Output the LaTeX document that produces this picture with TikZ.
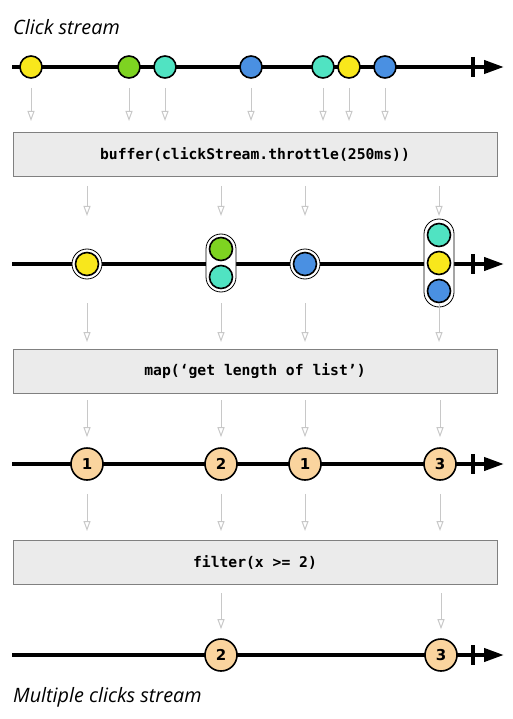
\documentclass[tikz,border=0pt]{standalone}
\usepackage{fontspec}
\usetikzlibrary{arrows.meta}
\newfontfamily\labelfont{Open Sans}
\newfontfamily\codefont{DejaVu Sans Mono}
\newfontfamily\numfont{DejaVu Sans}

\definecolor{mYellow}{HTML}{F8E71C}
\definecolor{mGreen}{HTML}{7ED321}
\definecolor{mTeal}{HTML}{50E3C2}
\definecolor{mBlue}{HTML}{4A90E2}
\definecolor{mPeach}{HTML}{FAD49E}
\definecolor{opFill}{HTML}{EBEBEB}
\definecolor{opLine}{HTML}{808080}
\definecolor{flowGray}{HTML}{C8C8C8}

\tikzset{
  timeline/.style={line width=4pt, -{Triangle[length=20pt,width=13pt]}},
  tickbar/.style={line width=4.5pt},
  marble/.style={circle, draw, line width=1.6pt, minimum size=22pt, inner sep=0pt},
  ring/.style={circle, draw, fill=white, line width=0.8pt, minimum size=30pt, inner sep=0pt},
  pill/.style={rectangle, draw, fill=white, line width=0.8pt, rounded corners=15pt, minimum width=30pt, inner sep=0pt},
  count/.style={circle, draw, fill=mPeach, line width=1.6pt, minimum size=32pt, inner sep=0pt, font=\numfont\bfseries\fontsize{15}{15}\selectfont},
  opbox/.style={rectangle, draw=opLine, fill=opFill, line width=1pt, minimum width=484pt, minimum height=44pt, inner sep=0pt, font=\codefont\bfseries\fontsize{14.7}{16}\selectfont},
  flow/.style={draw=flowGray, line width=1pt, -{Triangle[open,length=10pt,width=7pt]}},
  streamlabel/.style={anchor=base west, inner sep=0pt, font=\labelfont\itshape\fontsize{19.8}{22}\selectfont}
}

\begin{document}
\begin{tikzpicture}[x=1pt,y=-1pt]
\useasboundingbox (0,0) rectangle (512,719);

%timelines
\foreach \y in {67,264,464,655}{
  \draw [timeline] (12,\y) -- (504,\y);
  \draw [tickbar] (473,\y-10) -- (473,\y+10);
}

% Text Node
\node [streamlabel] (title) at (13,35) {Click stream};
\node [streamlabel] (result) at (13,702) {Multiple clicks stream};

%click stream
\node [marble, fill=mYellow] (m1) at (31,67) {};
\node [marble, fill=mGreen] (m2) at (129,67) {};
\node [marble, fill=mTeal] (m3) at (165,67) {};
\node [marble, fill=mBlue] (m4) at (251,67) {};
\node [marble, fill=mTeal] (m5) at (323,67) {};
\node [marble, fill=mYellow] (m6) at (349,67) {};
\node [marble, fill=mBlue] (m7) at (385,67) {};

%operators
\node [opbox] (buf) at (255,154.5) {buffer(clickStream.throttle(250ms))};
\node [opbox] (map) at (255,371.5) {map(‘get length of list’)};
\node [opbox] (filt) at (255,562.5) {filter(x >= 2)};

%buffered stream
\node [ring] (b1) at (87,264) {};
\node [marble, fill=mYellow, minimum size=23pt] at (b1) {};
\node [pill, minimum height=58pt] (b2) at (221,263) {};
\node [marble, fill=mGreen, minimum size=23pt] at (221,249) {};
\node [marble, fill=mTeal, minimum size=23pt] at (221,277) {};
\node [ring] (b3) at (305,264) {};
\node [marble, fill=mBlue, minimum size=23pt] at (b3) {};
\node [pill, minimum height=88pt] (b4) at (439,263) {};
\node [marble, fill=mTeal, minimum size=23pt] at (439,235) {};
\node [marble, fill=mYellow, minimum size=23pt] at (439,263) {};
\node [marble, fill=mBlue, minimum size=23pt] at (439,291) {};

%lengths
\node [count] (n1) at (87,464) {1};
\node [count] (n2) at (221,464) {2};
\node [count] (n3) at (305,464) {1};
\node [count] (n4) at (440,464) {3};

%filtered
\node [count] (o1) at (221,655) {2};
\node [count] (o2) at (441,655) {3};

%flow arrows
\foreach \n in {m1,m2,m3,m4,m5,m6,m7}
  \draw [flow, shorten <=9pt, shorten >=11pt] (\n.south) -- (\n |- buf.north);
\foreach \n in {b1,b2,b3,b4}
  \draw [flow] (buf.south -| \n) ++(0,9) -- ++(0,30);
\foreach \n in {b1,b2,b3,b4}
  \draw [flow] (map.north -| \n) ++(0,-46) -- ++(0,39);
\foreach \n in {n1,n2,n3,n4}
  \draw [flow, shorten <=6pt, shorten >=10pt] (map.south -| \n) -- (\n.north);
\foreach \n in {n1,n2,n3,n4}
  \draw [flow, shorten <=13pt, shorten >=9pt] (\n.south) -- (\n |- filt.north);
\foreach \n in {o1,o2}
  \draw [flow, shorten <=8pt, shorten >=9pt] (filt.south -| \n) -- (\n.north);

\end{tikzpicture}
\end{document}
